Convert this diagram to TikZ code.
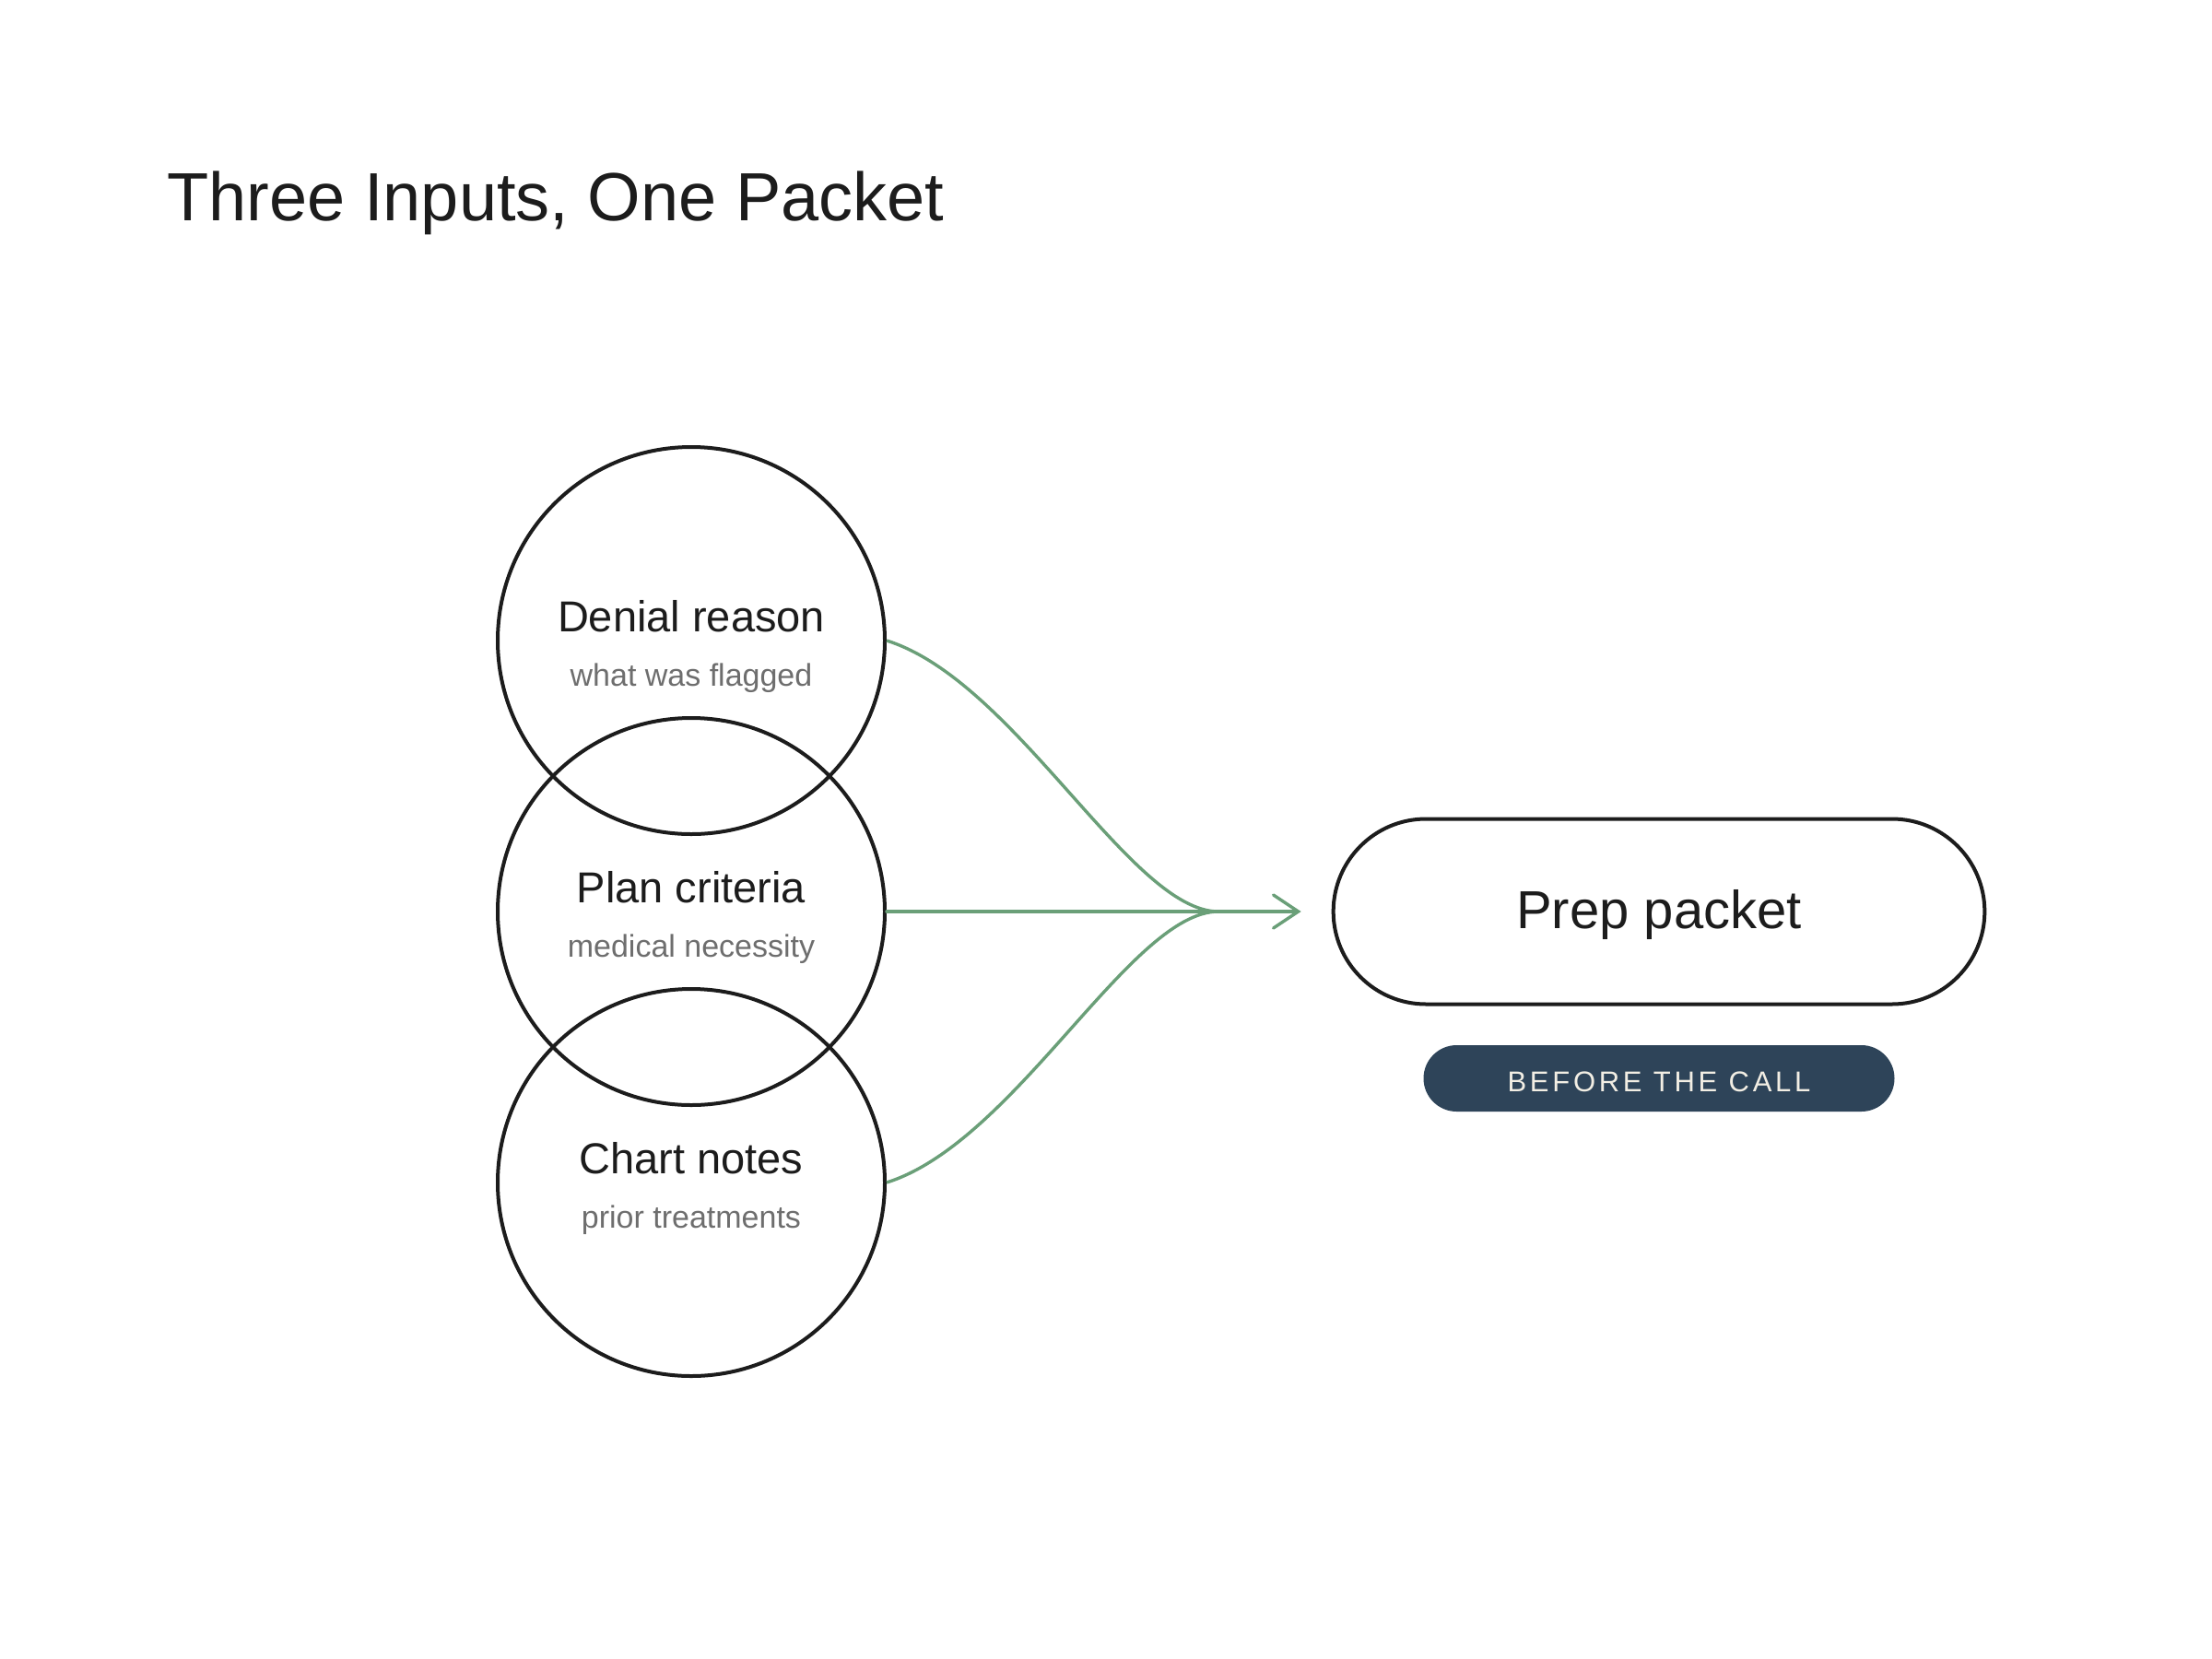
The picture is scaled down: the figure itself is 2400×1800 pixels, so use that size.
\documentclass[tikz,border=0pt]{standalone}
\usepackage{fontspec}
\setmainfont{Liberation Sans}
\newfontfamily\badgefont[LetterSpace=12]{Liberation Sans}
\usetikzlibrary{shapes.misc,arrows.meta,calc}
\definecolor{ink}{HTML}{1C1C1C}
\definecolor{subgray}{HTML}{6E6E6E}
\definecolor{flowgreen}{HTML}{6A9F78}
\definecolor{navy}{HTML}{2E4459}
\definecolor{cream}{HTML}{F2EEE4}
\begin{document}
\begin{tikzpicture}[x=0.5pt,y=-0.5pt,
  ring/.style={circle,draw=ink,line width=2pt,minimum size=210pt,inner sep=0pt},
  mainlbl/.style={font=\fontsize{23.5}{28}\selectfont,text=ink,anchor=base,inner sep=0pt},
  sublbl/.style={font=\fontsize{17}{20}\selectfont,text=subgray,anchor=base,inner sep=0pt},
  flow/.style={draw=flowgreen,line width=1.7pt}]
\path[fill=white] (0,0) rectangle (2400,1800);
\useasboundingbox (0,0) rectangle (2400,1800);

\node[font=\fontsize{37}{44}\selectfont,text=ink,anchor=base west,inner sep=0pt] (title) at (181,239) {Three Inputs, One Packet};

\node[ring] (c1) at (750,695) {};
\node[ring] (c2) at (750,989) {};
\node[ring] (c3) at (750,1283) {};

\node[mainlbl] (t1) at (750,685) {Denial reason};
\node[sublbl] (s1) at (750,744) {what was flagged};
\node[mainlbl] (t2) at (750,979) {Plan criteria};
\node[sublbl] (s2) at (750,1038) {medical necessity};
\node[mainlbl] (t3) at (750,1273) {Chart notes};
\node[sublbl] (s3) at (750,1332) {prior treatments};

\node[rounded rectangle,draw=ink,line width=2pt,minimum width=360pt,minimum height=100.5pt,
      font=\fontsize{29}{34}\selectfont,text=ink,text height=20pt,text depth=2pt] (pill) at (1800,989) {Prep packet};

\node[rounded rectangle,fill=navy,minimum width=255.5pt,minimum height=36pt,inner sep=0pt,
      font=\badgefont\fontsize{15.5}{18}\selectfont,text=cream,text height=14pt,text depth=0pt] (badge) at (1800,1170) {BEFORE THE CALL};

\coordinate (m) at (1322,989);
\draw[flow] (c1.east) .. controls +(140,44) and +(-95,0) .. (m);
\draw[flow] (c3.east) .. controls +(140,-44) and +(-95,0) .. (m);
\draw[flow,line cap=round,-{Straight Barb[length=13.5pt,width=18pt,line cap=round]},shorten >=16.5pt] (c2.east) -- (pill.west);
\end{tikzpicture}
\end{document}
